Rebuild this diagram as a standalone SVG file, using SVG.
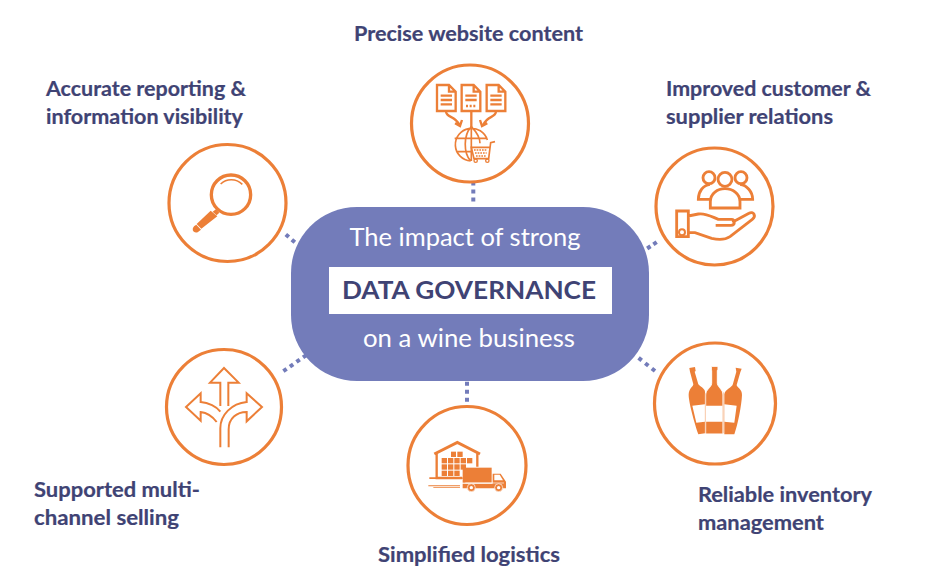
<svg xmlns="http://www.w3.org/2000/svg" width="940" height="588" viewBox="0 0 940 588">
<style>
.lb{font-family:Lato,"Open Sans","Liberation Sans",sans-serif;font-weight:700;font-size:20px;fill:#3f4374;stroke:#3f4374;stroke-width:.2}
.w{font-family:Lato,"Open Sans","Liberation Sans",sans-serif;font-size:24.5px;fill:#fff;text-anchor:middle}
.c{fill:none;stroke:#ec7f37;stroke-width:3.2}
.i{fill:none;stroke:#ec7f37;stroke-width:7;stroke-linejoin:miter}
.f{fill:#ec7f37}
.t{fill:none;stroke:#ec7f37;stroke-width:4}
.d{fill:none;stroke:#737cba;stroke-width:4;stroke-dasharray:4 4}
</style>
<rect width="940" height="588" fill="#fff"/>
<g id="connectors">
<path class="d" d="M473.3 181.5V201.5"/>
<path class="d" d="M285.8 234.4L296.3 243.6"/>
<path class="d" style="stroke-dasharray:4 3.4" d="M656.7 242.2L647 248.6"/>
<path class="d" style="stroke-dasharray:4 4.5" d="M655 371L638.4 357.75"/>
<path class="d" d="M467 381.7V401.7"/>
<path class="d" d="M283.36 371.15L306 355.3"/>
</g>
<g id="center">
<rect x="291" y="207" width="358" height="174" rx="66" fill="#737cba"/>
<text class="w" x="465" y="245.7" textLength="231" lengthAdjust="spacingAndGlyphs">The impact of strong</text>
<rect x="329" y="267" width="283" height="47" fill="#fff"/>
<text x="469" y="298.5" text-anchor="middle" textLength="254" lengthAdjust="spacingAndGlyphs" style="font-family:Lato,sans-serif;font-weight:700;font-size:25px;fill:#3f4374">DATA GOVERNANCE</text>
<text class="w" x="469" y="346.7" textLength="212" lengthAdjust="spacingAndGlyphs">on a wine business</text>
</g>
<g id="website">
<circle class="c" cx="470" cy="123.5" r="58.5"/>
<text class="lb" x="354" y="40.6" textLength="229" lengthAdjust="spacingAndGlyphs">Precise website content</text>
<g transform="translate(400 60) scale(.3333)">
<path class="i" d="M111 75H147L167 95V153H111ZM147 75V95H167M122 107H156M122 120H156M122 133H156"/>
<path class="i" d="M185 75H221L241 95V153H185ZM221 75V95H241M196 107H230M196 120H230M198 138H204M209 138H215M220 138H226"/>
<path class="i" d="M260 75H296L316 95V153H260ZM296 75V95H316M271 107H305M271 120H305M271 133H305"/>
<path class="i" d="M138 155C140 175 165 165 178 195M165 190L180 198L186 180M214 155V205M288 155C286 175 262 165 250 195M262 190L246 198L240 180"/>
<path class="t" style="stroke-width:5" d="M212 303A49 49 0 1 1 262 240M214 200C190 225 190 280 212 303M214 200C238 225 240 240 240 250M164 235H262M172 275H212M214 200V303"/>
<path class="t" style="stroke-width:5" d="M285 245L272 248L266 296H222L214 262H268"/>
<path class="i" style="stroke-width:4;stroke-dasharray:5 3" d="M222 270H262M225 279H260M228 288H258"/>
<circle class="t" cx="227" cy="302" r="5"/><circle class="t" cx="262" cy="302" r="5"/>
</g>
</g>
<g id="customer">
<circle class="c" cx="714.5" cy="206.5" r="58.5"/>
<text class="lb" x="666" y="95.6" textLength="205" lengthAdjust="spacingAndGlyphs">Improved customer &amp;</text>
<text class="lb" x="666" y="123.6" textLength="167" lengthAdjust="spacingAndGlyphs">supplier relations</text>
<g transform="translate(645 140) scale(.3333)">
<g class="i" style="stroke-width:8.5">
<circle cx="192" cy="113" r="18"/><circle cx="240" cy="118" r="21"/><circle cx="288" cy="113" r="18"/>
<path d="M195 178H160C160 155 175 135 195 133M285 178H323C323 155 305 135 285 133"/>
<path d="M196 204V185C196 160 218 146 240 146C262 146 285 160 285 185V204Z"/>
<path d="M95 213H130V290H95ZM130 228L160 222C180 218 200 230 220 238H260C270 238 272 256 258 256H212M262 247L312 220C325 212 335 228 322 238L255 290C240 300 220 300 200 295L150 278H130"/>
</g>
<circle class="t" style="stroke-width:6" cx="111" cy="277" r="9"/>
</g>
</g>
<g id="inventory">
<circle class="c" cx="715" cy="403.5" r="60.5"/>
<text class="lb" x="698" y="501.6" textLength="174" lengthAdjust="spacingAndGlyphs">Reliable inventory</text>
<text class="lb" x="698" y="529.6" textLength="126" lengthAdjust="spacingAndGlyphs">management</text>
<g transform="translate(645 335) scale(.3333)">
<path class="f" d="M133 99L150 96L152 108L149 110L160 148C170 158 181 162 180 172V295L160 298C150 270 130 200 131 178C132 160 145 155 145 148L135 110Z"/>
<path class="f" d="M272 98L290 101L286 112L275 150C276 158 292 162 291 180C290 210 278 270 268 298L238 298V178C240 162 262 158 264 146L274 110Z"/>
<path class="f" stroke="#fff" stroke-width="3" d="M199 94H219V106H217V145C220 160 234 162 234 180V297H182V180C182 162 198 160 200 145V106H199Z"/>
<path fill="#fff" d="M142 212L180 208V260L154 263ZM238 208L275 212L268 263L238 260ZM183 212H233V260H183Z"/>
<path class="i" style="stroke:#f8c8a8;stroke-width:3" d="M181 175V295M235 172V295"/>
</g>
</g>
<g id="logistics">
<circle class="c" cx="467" cy="465.5" r="59"/>
<text class="lb" x="378" y="561.6" textLength="182" lengthAdjust="spacingAndGlyphs">Simplified logistics</text>
<g transform="translate(400 400) scale(.3333)">
<path class="i" style="stroke-width:9" d="M103 162L172 127L240 162"/>
<path class="i" d="M110 160V234H186M232 160V200"/>
<path class="f" d="M88 232H188V237H88ZM85 256H180V259H85ZM100 262H180V264H100Z"/>
<g class="f">
<rect x="153" y="155" width="15" height="16"/><rect x="172" y="155" width="16" height="16"/>
<rect x="125" y="174" width="16" height="16"/><rect x="144" y="174" width="16" height="16"/><rect x="163" y="174" width="16" height="16"/><rect x="182" y="174" width="16" height="16"/><rect x="201" y="174" width="16" height="16"/>
<rect x="125" y="193" width="16" height="16"/><rect x="144" y="193" width="16" height="16"/><rect x="163" y="193" width="16" height="16"/><rect x="182" y="193" width="16" height="16"/>
<rect x="125" y="212" width="16" height="16"/><rect x="144" y="212" width="16" height="16"/><rect x="163" y="212" width="16" height="16"/>
<rect x="188" y="203" width="87" height="45"/>
<path d="M188 251H278V221H302L318 245V265H188Z"/>
</g>
<path fill="#fff" d="M283 224H299L309 241H283Z"/>
<path d="M196 249H312" stroke="#fff" stroke-width="2"/>
<circle class="f" cx="214" cy="263" r="12" stroke="#fff" stroke-width="2"/><circle cx="214" cy="263" r="5" fill="#fff"/>
<circle class="f" cx="296" cy="263" r="12" stroke="#fff" stroke-width="2"/><circle cx="296" cy="263" r="5" fill="#fff"/>
</g>
</g>
<g id="selling">
<circle class="c" cx="224" cy="407" r="57.5"/>
<text class="lb" x="34" y="496.6" textLength="166" lengthAdjust="spacingAndGlyphs">Supported multi-</text>
<text class="lb" x="34" y="524.6" textLength="145" lengthAdjust="spacingAndGlyphs">channel selling</text>
<g transform="translate(160 340) scale(.3333)">
<g class="i" style="stroke-width:6">
<path d="M181 198V128H150L192 84L236 128H205V198"/>
<path d="M181 215C170 200 145 188 122 186V160L78 201L122 242V216C140 218 158 230 170 246"/>
<path d="M181 322V265C181 225 215 190 260 186V160L306 201L260 244V216C230 216 206 235 206 268V322"/>
</g>
</g>
</g>
<g id="reporting">
<circle class="c" cx="227.5" cy="203" r="58.5"/>
<text class="lb" x="46" y="95.6" textLength="200" lengthAdjust="spacingAndGlyphs">Accurate reporting &amp;</text>
<text class="lb" x="46" y="123.6" textLength="197" lengthAdjust="spacingAndGlyphs">information visibility</text>
<g transform="translate(160 140) scale(.3333)">
<circle cx="213" cy="164" r="59" fill="none" stroke="#ec7f37" stroke-width="10"/>
<path class="i" style="stroke-width:5" d="M182 132C200 115 228 115 247 133"/>
<path class="f" d="M152 212L172 229L124 266L110 252ZM168 208L178 218L170 226L158 215Z"/>
<path class="f" d="M103 258L109 254L123 269L113 277C98 281 94 266 103 258Z"/>
</g>
</g>
</svg>
